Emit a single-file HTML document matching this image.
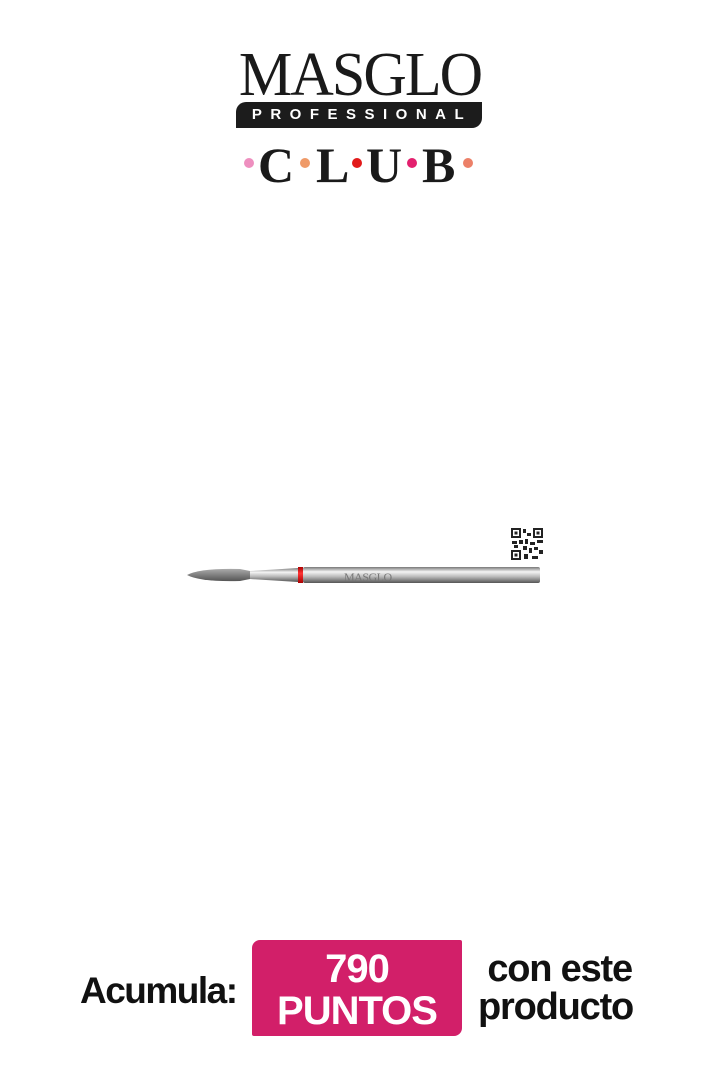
<!DOCTYPE html>
<html><head><meta charset="utf-8"><style>
body{margin:0;width:720px;height:1088px;background:#fff;position:relative;overflow:hidden;font-family:"Liberation Sans",sans-serif}
.a{position:absolute}
</style></head><body>
<div class="a" style="left:222px;top:44px;width:276px;text-align:center;font-family:'Liberation Serif',serif;font-size:62px;line-height:62px;color:#1a1a1a;letter-spacing:-2px;transform:scaleX(0.97)">MASGLO</div>
<div class="a" style="left:236px;top:102px;width:246px;height:26px;background:#1c1c1c;border-radius:10px 0 10px 0"></div>
<div class="a" style="left:236px;top:106px;width:246px;text-align:center;color:#fff;font-weight:bold;font-size:15px;letter-spacing:8.5px;line-height:18px;padding-left:6px;box-sizing:border-box">PROFESSIONAL</div>
<div class="a" style="left:244px;top:140px;width:232px;height:46px;font-family:'Liberation Serif',serif;font-weight:bold;font-size:50px;line-height:46px;color:#1a1a1a">
<span class="a" style="left:0;top:18px;width:10px;height:10px;border-radius:50%;background:#ee8fbf"></span>
<span class="a" style="left:14px;top:2px">C</span>
<span class="a" style="left:56px;top:18px;width:10px;height:10px;border-radius:50%;background:#ef9a68"></span>
<span class="a" style="left:72px;top:2px">L</span>
<span class="a" style="left:108px;top:18px;width:10px;height:10px;border-radius:50%;background:#e21a1a"></span>
<span class="a" style="left:122px;top:2px">U</span>
<span class="a" style="left:163px;top:18px;width:10px;height:10px;border-radius:50%;background:#e3206e"></span>
<span class="a" style="left:178px;top:2px">B</span>
<span class="a" style="left:219px;top:18px;width:10px;height:10px;border-radius:50%;background:#ec8068"></span>
</div>
<svg class="a" style="left:0;top:0" width="720" height="1088">
<defs>
<linearGradient id="s" x1="0" y1="0" x2="0" y2="1"><stop offset="0" stop-color="#777"/><stop offset=".3" stop-color="#f4f4f4"/><stop offset=".6" stop-color="#bbb"/><stop offset="1" stop-color="#555"/></linearGradient>
<linearGradient id="g" x1="0" y1="0" x2="0" y2="1"><stop offset="0" stop-color="#aaa"/><stop offset=".4" stop-color="#888"/><stop offset="1" stop-color="#555"/></linearGradient>
<linearGradient id="r" x1="0" y1="0" x2="0" y2="1"><stop offset="0" stop-color="#a00"/><stop offset=".4" stop-color="#f33"/><stop offset="1" stop-color="#a00"/></linearGradient>
</defs>
<path d="M187 575 Q200 568 240 569 L250 571 L250 579 L240 581 Q200 582 187 575Z" fill="url(#g)"/>
<path d="M250 571 L298 568 L298 582 L250 579Z" fill="url(#s)"/>
<rect x="298" y="567" width="5" height="16" fill="url(#r)"/>
<rect x="303" y="567" width="237" height="16" rx="2" fill="url(#s)"/>
<text x="344" y="581" font-family="Liberation Serif" font-size="12" fill="#777" letter-spacing="-0.5">MASGLO</text>
<g fill="#222">
<rect x="511" y="528" width="10" height="10"/><rect x="533" y="528" width="10" height="10"/><rect x="511" y="550" width="10" height="10"/>
<rect x="513" y="530" width="6" height="6" fill="#fff"/><rect x="535" y="530" width="6" height="6" fill="#fff"/><rect x="513" y="552" width="6" height="6" fill="#fff"/>
<rect x="514.5" y="531.5" width="3" height="3"/><rect x="536.5" y="531.5" width="3" height="3"/><rect x="514.5" y="553.5" width="3" height="3"/>
<rect x="523" y="529" width="3" height="4"/><rect x="527" y="533" width="4" height="3"/><rect x="512" y="541" width="5" height="3"/><rect x="519" y="540" width="4" height="4"/>
<rect x="525" y="539" width="3" height="5"/><rect x="530" y="542" width="5" height="3"/><rect x="537" y="540" width="6" height="3"/><rect x="523" y="546" width="4" height="4"/>
<rect x="529" y="548" width="3" height="5"/><rect x="534" y="547" width="4" height="3"/><rect x="539" y="550" width="4" height="4"/><rect x="524" y="554" width="4" height="5"/><rect x="532" y="556" width="6" height="3"/><rect x="514" y="545" width="4" height="3"/>
</g>
</svg>
<div class="a" style="left:80px;top:970px;font-weight:bold;font-size:37px;letter-spacing:-1.5px;color:#111">Acumula:</div>
<div class="a" style="left:252px;top:940px;width:210px;height:96px;background:#d21f69;border-radius:8px 2px 8px 2px"></div>
<div class="a" style="left:252px;top:948px;width:210px;text-align:center;color:#fff;font-weight:bold;font-size:40px;line-height:42px;letter-spacing:-1px">790<br>PUNTOS</div>
<div class="a" style="left:478px;top:950px;font-weight:bold;font-size:38px;line-height:38px;letter-spacing:-1.2px;color:#111;white-space:nowrap">&nbsp;con este<br>producto</div>
</body></html>
